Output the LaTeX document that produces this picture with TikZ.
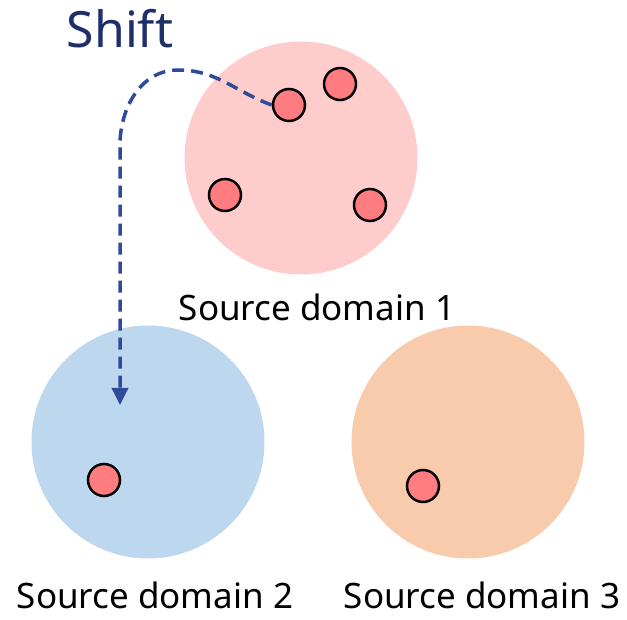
\documentclass[tikz,border=0pt]{standalone}
\usepackage{fontspec}
\setmainfont{Noto Sans}
\usetikzlibrary{arrows.meta}
\definecolor{pinkarea}{HTML}{FFCCCC}
\definecolor{bluearea}{HTML}{BDD7EE}
\definecolor{orangearea}{HTML}{F8CBAD}
\definecolor{samplered}{HTML}{FF7C80}
\definecolor{shiftblue}{HTML}{2F4A9A}
\definecolor{titleblue}{HTML}{1F2F6B}
\tikzset{
  areadisc/.style={circle, minimum size=233pt, inner sep=0pt},
  sampledot/.style={circle, draw=black, line width=2.5pt, fill=samplered, minimum size=32pt, inner sep=0pt},
  caption/.style={font=\fontsize{35}{42}\selectfont, text=black, inner sep=0pt, anchor=base},
  shiftarrow/.style={draw=shiftblue, line width=3.5pt, dash pattern=on 12pt off 7pt, -{Triangle[length=17pt,width=16pt]}}
}
\begin{document}
\begin{tikzpicture}[x=1pt,y=-1pt]
\useasboundingbox (0,0) rectangle (627,620);
% source domains
\node[areadisc, fill=pinkarea] (d1) at (301,158) {};
\node[areadisc, fill=bluearea] (d2) at (148,442) {};
\node[areadisc, fill=orangearea] (d3) at (468,442) {};
% samples
\node[sampledot] (s1) at (289,105) {};
\node[sampledot] (s2) at (340,84) {};
\node[sampledot] (s3) at (225,195) {};
\node[sampledot] (s4) at (370,205) {};
\node[sampledot] (s5) at (104,480) {};
\node[sampledot] (s6) at (423,486) {};
% labels
\node[caption] (l1) at (317,321) {Source domain 1};
\node[caption] (l2) at (155,608) {Source domain 2};
\node[caption] (l3) at (482,608) {Source domain 3};
\node[font=\fontsize{50}{60}\selectfont, text=titleblue, inner sep=0pt, anchor=base] (title) at (120,48) {Shift};
% shift path
\coordinate (tip) at (120,405);
\draw[shiftarrow] (s1.west) to[out=160,in=0] (178,70) to[out=180,in=90] (120,145) -- (tip);
\end{tikzpicture}
\end{document}
